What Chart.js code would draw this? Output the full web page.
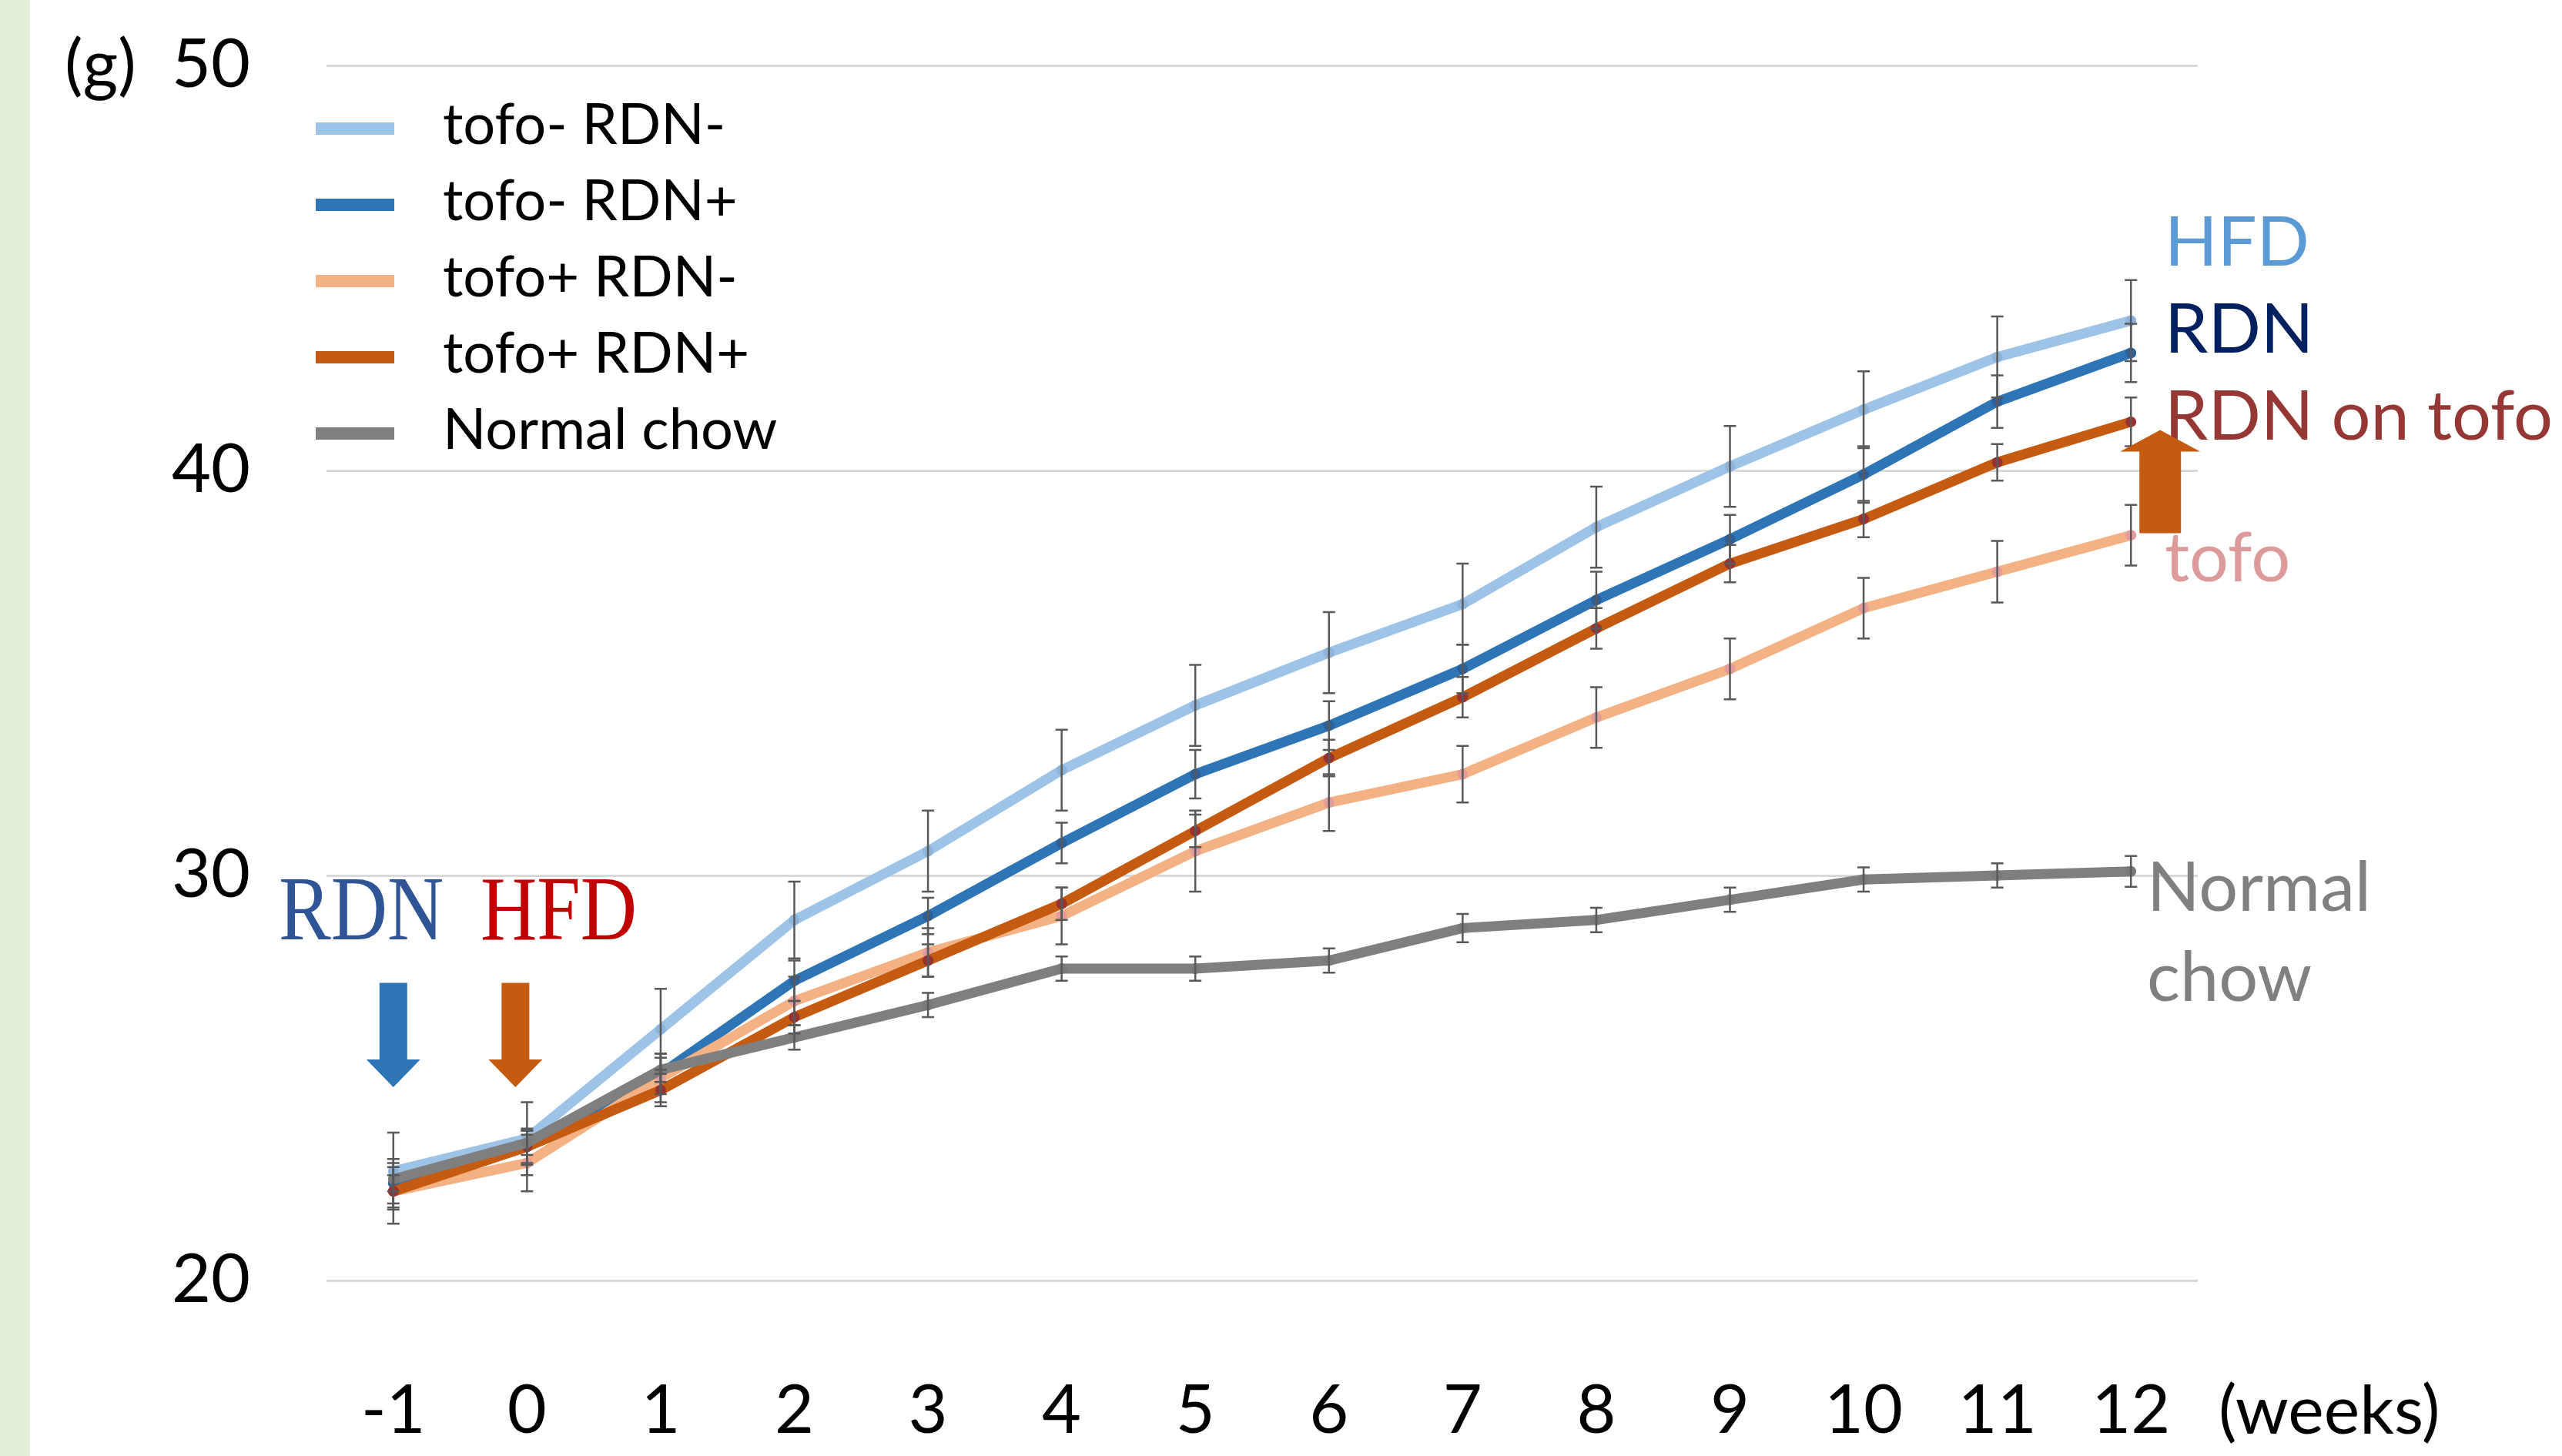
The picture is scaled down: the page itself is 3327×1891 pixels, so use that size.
<!DOCTYPE html>
<html>
<head>
<meta charset="utf-8">
<script src="https://cdn.jsdelivr.net/npm/chart.js@4.4.1/dist/chart.umd.min.js"></script>
<style>
  html, body { margin: 0; padding: 0; background: #ffffff; }
  #wrap { width: 3327px; height: 1891px; position: relative; }
</style>
</head>
<body>
<div id="wrap"><canvas id="c" width="3327" height="1891"></canvas></div>
<script>
// weeks on the x axis
var weeks = ['-1', '0', '1', '2', '3', '4', '5', '6', '7', '8', '9', '10', '11', '12'];

// body weight (g)
var tofoMinusRdnMinus = [22.7, 23.5, 26.2, 28.9, 30.6, 32.6, 34.2, 35.5, 36.7, 38.6, 40.1, 41.5, 42.8, 43.7];
var tofoMinusRdnPlus  = [22.4, 23.3, 25.1, 27.4, 29.0, 30.8, 32.5, 33.7, 35.1, 36.8, 38.3, 39.9, 41.7, 42.9];
var tofoPlusRdnMinus  = [22.2, 22.9, 25.0, 26.9, 28.1, 29.0, 30.6, 31.8, 32.5, 33.9, 35.1, 36.6, 37.5, 38.4];
var tofoPlusRdnPlus   = [22.2, 23.3, 24.7, 26.5, 27.9, 29.3, 31.1, 32.9, 34.4, 36.1, 37.7, 38.8, 40.2, 41.2];
var normalChow        = [22.5, 23.4, 25.2, 26.0, 26.8, 27.7, 27.7, 27.9, 28.7, 28.9, 29.4, 29.9, 30.0, 30.1];

// error bars (+/-)
var errTofoMinusRdnMinus = [0.95, 0.9, 1.0, 0.95, 1.0, 1.0, 1.0, 1.0, 1.0, 1.0, 1.0, 0.95, 1.0, 1.0];
var errTofoMinusRdnPlus  = [0.5, 0.45, 0.5, 0.5, 0.45, 0.5, 0.6, 0.6, 0.6, 0.7, 0.6, 0.7, 0.65, 0.72];
var errTofoPlusRdnMinus  = [0.8, 0.7, 0.6, 0.6, 0.6, 0.7, 1.0, 0.7, 0.7, 0.75, 0.75, 0.75, 0.76, 0.75];
var errTofoPlusRdnPlus   = [0.4, 0.4, 0.4, 0.4, 0.4, 0.4, 0.4, 0.45, 0.5, 0.5, 0.46, 0.45, 0.45, 0.6];
var errNormalChow        = [0.3, 0.3, 0.3, 0.3, 0.3, 0.3, 0.3, 0.3, 0.35, 0.3, 0.3, 0.3, 0.3, 0.38];

var seriesNames = ['tofo- RDN-', 'tofo- RDN+', 'tofo+ RDN-', 'tofo+ RDN+', 'Normal chow'];
var yTicks = [20, 30, 40, 50];

var lineColors  = ['#9dc3e6', '#2e75b6', '#f4b183', '#c55a11', '#7f7f7f'];
var pointColors = ['#8fb4da', '#2f5f97', '#e39c9c', '#963232', '#7a7a7a'];

var allData = [tofoMinusRdnMinus, tofoMinusRdnPlus, tofoPlusRdnMinus, tofoPlusRdnPlus, normalChow];
var allErr = [errTofoMinusRdnMinus, errTofoMinusRdnPlus, errTofoPlusRdnMinus, errTofoPlusRdnPlus, errNormalChow];

var datasets = allData.map(function (d, i) {
  return {
    label: seriesNames[i],
    data: d,
    errors: allErr[i],
    borderColor: lineColors[i],
    backgroundColor: lineColors[i],
    borderWidth: 13,
    tension: 0,
    pointRadius: 7,
    pointBorderWidth: 0,
    pointBackgroundColor: pointColors[i],
    order: 4 - i   // last series drawn on top, like the original
  };
});

var FONT = 'Lato, "Open Sans", sans-serif';

// pale green strip on the left edge
var bgPlugin = {
  id: 'bgStrip',
  beforeDraw: function (chart) {
    var ctx = chart.ctx;
    ctx.save();
    ctx.fillStyle = '#e2efd9';
    ctx.fillRect(0, 0, 39, chart.height);
    ctx.restore();
  }
};

var errorBars = {
  id: 'errorBars',
  afterDatasetsDraw: function (chart) {
    var ctx = chart.ctx;
    var ys = chart.scales.y;
    ctx.save();
    ctx.strokeStyle = '#595959';
    ctx.lineWidth = 2.5;
    chart.data.datasets.forEach(function (ds, di) {
      var meta = chart.getDatasetMeta(di);
      meta.data.forEach(function (pt, j) {
        var v = ds.data[j], e = ds.errors[j];
        var top = ys.getPixelForValue(v + e);
        var bot = ys.getPixelForValue(v - e);
        ctx.beginPath();
        ctx.moveTo(pt.x, top); ctx.lineTo(pt.x, bot);
        ctx.moveTo(pt.x - 8, top); ctx.lineTo(pt.x + 8, top);
        ctx.moveTo(pt.x - 8, bot); ctx.lineTo(pt.x + 8, bot);
        ctx.stroke();
      });
    });
    ctx.restore();
  }
};

function downArrow(ctx, cx, yTop, yTip, color) {
  ctx.fillStyle = color;
  ctx.beginPath();
  ctx.moveTo(cx - 18, yTop);
  ctx.lineTo(cx + 18, yTop);
  ctx.lineTo(cx + 18, yTip - 36);
  ctx.lineTo(cx + 35, yTip - 36);
  ctx.lineTo(cx, yTip);
  ctx.lineTo(cx - 35, yTip - 36);
  ctx.lineTo(cx - 18, yTip - 36);
  ctx.closePath();
  ctx.fill();
}

function upArrow(ctx, cx, yBot, yTip, color) {
  ctx.fillStyle = color;
  ctx.beginPath();
  ctx.moveTo(cx - 27, yBot);
  ctx.lineTo(cx + 27, yBot);
  ctx.lineTo(cx + 27, yTip + 28);
  ctx.lineTo(cx + 52, yTip + 28);
  ctx.lineTo(cx, yTip);
  ctx.lineTo(cx - 52, yTip + 28);
  ctx.lineTo(cx - 27, yTip + 28);
  ctx.closePath();
  ctx.fill();
}

var annotations = {
  id: 'annotations',
  afterDraw: function (chart) {
    var ctx = chart.ctx;
    var xs = chart.scales.x, ys = chart.scales.y;
    ctx.save();

    // legend inside the plot
    ctx.textBaseline = 'alphabetic';
    ctx.textAlign = 'left';
    ctx.font = '74px ' + FONT;
    seriesNames.forEach(function (name, i) {
      var y = 167 + i * 99;
      ctx.fillStyle = lineColors[i];
      ctx.fillRect(410, y - 8, 102, 16);
      ctx.fillStyle = '#000000';
      ctx.fillText(name, 575, y + 20);
    });

    // unit labels
    ctx.font = '88px ' + FONT;
    ctx.fillStyle = '#000000';
    ctx.fillText('(g)', 84, 114);
    ctx.fillText('(weeks)', 2881, 1862);

    // labels at the right end
    ctx.font = '90px ' + FONT;
    ctx.fillStyle = '#5b9bd5'; ctx.fillText('HFD', 2811, 345);
    ctx.fillStyle = '#002060'; ctx.fillText('RDN', 2811, 458);
    ctx.fillStyle = '#953735'; ctx.fillText('RDN on tofo', 2811, 571);
    ctx.fillStyle = '#dc9a9a'; ctx.fillText('tofo', 2811, 755);
    ctx.fillStyle = '#808080';
    ctx.fillText('Normal', 2788, 1183);
    ctx.fillText('chow', 2788, 1300);

    // RDN / HFD start markers
    ctx.font = '118px "Liberation Serif", "DejaVu Serif", serif';
    ctx.save();
    ctx.translate(362, 1220); ctx.scale(0.86, 1);
    ctx.fillStyle = '#2f5597'; ctx.fillText('RDN', 0, 0);
    ctx.restore();
    ctx.save();
    ctx.translate(624, 1220); ctx.scale(0.86, 1);
    ctx.fillStyle = '#c00000'; ctx.fillText('HFD', 0, 0);
    ctx.restore();

    downArrow(ctx, xs.getPixelForValue(0), ys.getPixelForValue(27.35), ys.getPixelForValue(24.77), '#2e75b6');
    downArrow(ctx, xs.getPixelForValue(1) - 15, ys.getPixelForValue(27.35), ys.getPixelForValue(24.77), '#c55a11');
    upArrow(ctx, xs.getPixelForValue(13) + 38, ys.getPixelForValue(38.45), ys.getPixelForValue(41.0), '#c55a11');

    ctx.restore();
  }
};

new Chart(document.getElementById('c'), {
  type: 'line',
  data: { labels: weeks, datasets: datasets },
  options: {
    responsive: false,
    animation: false,
    devicePixelRatio: 1,
    layout: { padding: { top: 85, right: 473, left: 0, bottom: 0 } },
    plugins: { legend: { display: false }, tooltip: { enabled: false } },
    scales: {
      x: {
        type: 'category',
        offset: true,
        grid: { display: false, drawTicks: false },
        border: { display: false },
        ticks: { color: '#000000', font: { family: FONT, size: 88 }, padding: 117, maxRotation: 0, autoSkip: false },
        afterFit: function (s) { s.height = 228; s.paddingLeft = 0; s.paddingRight = 0; }
      },
      y: {
        min: 20,
        max: 50,
        afterBuildTicks: function (s) { s.ticks = yTicks.map(function (v) { return { value: v }; }); },
        grid: { color: '#d9d9d9', lineWidth: 3, drawTicks: false },
        border: { display: false },
        ticks: { color: '#000000', font: { family: FONT, size: 88 }, padding: 99 },
        afterFit: function (s) { s.width = 424; s.paddingTop = 0; s.paddingBottom = 0; }
      }
    }
  },
  plugins: [bgPlugin, errorBars, annotations]
});
</script>
</body>
</html>
